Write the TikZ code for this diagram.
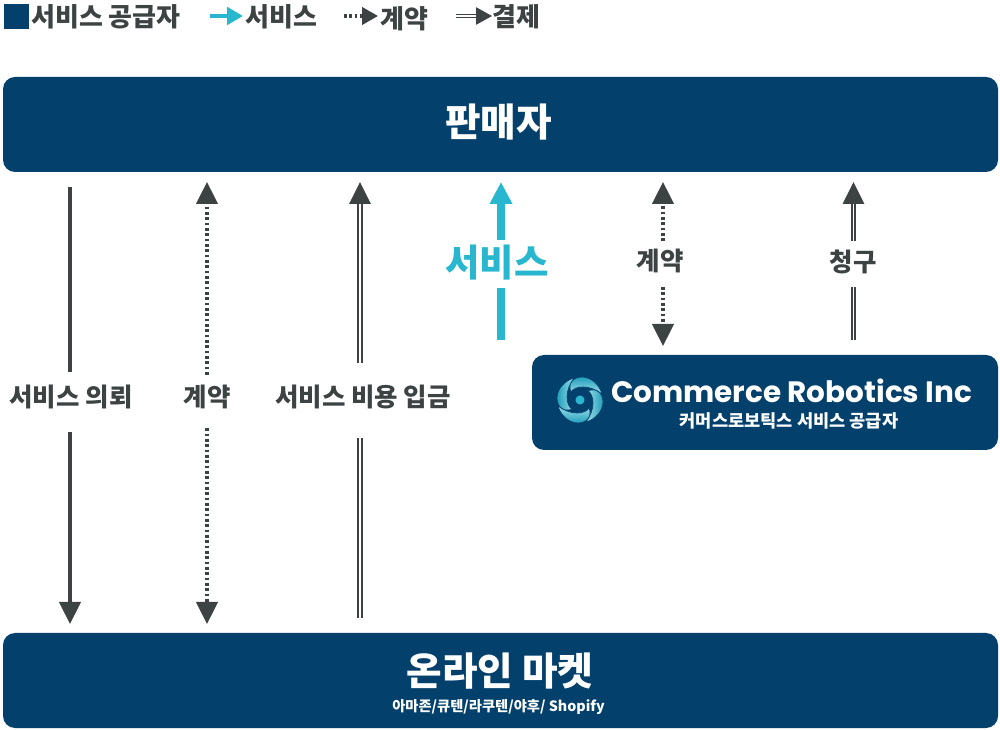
\documentclass[tikz,border=0pt]{standalone}
\usepackage{fontspec}
\setmainfont{Noto Sans CJK KR}
\newfontfamily\logofont{Poppins}
\usetikzlibrary{positioning,calc,arrows.meta}
\definecolor{navy}{HTML}{03406C}
\definecolor{teal}{HTML}{29B6CF}
\definecolor{ink}{HTML}{3D4243}
\tikzset{
  panel/.style={fill=navy,rounded corners=9pt,minimum height=71.25pt,inner sep=0pt},
  head/.style={font=\fontsize{29}{33}\bfseries\selectfont,text=white,inner sep=0pt},
  sub/.style={font=\fontsize{10.7}{13}\bfseries\selectfont,text=white,inner sep=0pt},
  lbl/.style={font=\fontsize{19.1}{23}\bfseries\selectfont,text=ink,inner xsep=0pt,inner ysep=0pt,text height=26.25pt,text depth=18.75pt},
  leg/.style={font=\fontsize{19.5}{23}\bfseries\selectfont,text=ink,inner sep=0pt,anchor=west},
  tipbig/.style={-{Triangle[length=16.5pt,width=16pt]}},
  solidline/.style={ink,line width=2.3pt},
  dotline/.style={ink,line width=2.4pt,dash pattern=on 2.1pt off 1.9pt},
  twoline/.style={ink,double=white,line width=1.4pt,double distance=1.1pt},
  cyanline/.style={teal,line width=6pt}
}
\begin{document}
\begin{tikzpicture}[x=0.75pt,y=-0.75pt]
\useasboundingbox (0,0) rectangle (1000,730);
% legend
\node (key) [fill=navy,minimum size=18.75pt,inner sep=0pt] at (16.5,16.5) {};
\node (t0) [leg] at (31,16.5) {서비스 공급자};
\coordinate (l1a) at (210,16); \coordinate (l1b) at (243,16);
\coordinate (l2a) at (344,16); \coordinate (l2b) at (378,16);
\coordinate (l3a) at (456,16); \coordinate (l3b) at (492,16);
\draw[teal,line width=3pt,-{Triangle[length=12pt,width=13pt]}] (l1a) to (l1b);
\draw[ink,line width=2.4pt,dash pattern=on 2pt off 2pt,-{Triangle[length=12pt,width=13pt]}] (l2a) to (l2b);
\draw[ink,double=white,line width=1.2pt,double distance=1pt,-{Triangle[length=12pt,width=13pt]}] (l3a) to (l3b);
\node (t1) [leg] at (245,16.5) {서비스};
\node (t2) [leg] at (380,18.5) {계약};
\node (t3) [leg] at (492,16.5) {결제};
% boxes
\node (seller) [panel,minimum width=746.25pt] at (500.5,124.5) {};
\node (market) [panel,minimum width=746.25pt] at (500.5,680.5) {};
\node (robot) [panel,minimum width=349.5pt] at (765,402.5) {};
\node (sellertxt) [head] at (498.5,122) {판매자};
\node (markettxt) [head] at (500,671) {온라인 마켓};
\node (marketsub) [sub] at (498.5,707) {아마존/큐텐/라쿠텐/야후/ Shopify};
\node (robotname) [font=\fontsize{22.1}{27}\logofont\bfseries\selectfont,text=white,inner sep=0pt] at (791.5,391) {Commerce Robotics Inc};
\node (robotsub) [font=\fontsize{13.2}{16}\bfseries\selectfont,text=white,inner sep=0pt] at (789,421) {커머스로보틱스 서비스 공급자};
% logo
\foreach \ang in {0,90,180,270}{
  \begin{scope}[shift={(580,400)},rotate=\ang]
    \shade[left color=teal!80!navy,right color=teal!45!white,shading angle=\ang,draw=navy,line width=.5pt]
      (-9,-8) .. controls (-13,-17) and (-6,-23) .. (2,-23)
      .. controls (12,-23) and (20,-14) .. (22,-6)
      .. controls (15,-11) and (9,-13) .. (3,-13)
      .. controls (-3,-13) and (-7,-11) .. (-9,-8) -- cycle;
  \end{scope}
}
\fill[teal] (580,400) circle (3.4pt);
% labels on the arrows
\node (lab1) [lbl] at (71,402) {서비스 의뢰};
\node (lab2) [lbl] at (207,402) {계약};
\node (lab3) [lbl] at (363,402) {서비스 비용 입금};
\node (lab4) [lbl,font=\fontsize{28}{32}\bfseries\selectfont,text=teal,text height=27pt,text depth=8pt] at (497,264) {서비스};
\node (lab5) [lbl,text height=21.75pt,text depth=12.25pt] at (660,264) {계약};
\node (lab6) [lbl,text height=22.5pt,text depth=11.5pt] at (853,264) {청구};
% arrow ends
\coordinate (a1) at (70,187);  \coordinate (b1) at (70,624);
\coordinate (a2) at (207,182); \coordinate (b2) at (207,624);
\coordinate (a3) at (360,182); \coordinate (b3) at (360,618);
\coordinate (a4) at (501,182); \coordinate (b4) at (501,340);
\coordinate (a5) at (663,182); \coordinate (b5) at (663,346);
\coordinate (a6) at (853.5,182); \coordinate (b6) at (853.5,340);
% arrows
\draw[solidline](a1)to (lab1.north -| a1);
\draw[solidline,tipbig](lab1.south -| a1)to (b1);
\draw[dotline,tipbig,shorten <=-2.25pt](lab2.north -| a2)to (a2);
\draw[dotline,tipbig,shorten <=-3pt](lab2.south -| a2)to (b2);
\draw[twoline,tipbig,shorten <=6.75pt](lab3.north -| a3)to (a3);
\draw[twoline,shorten <=4.5pt](lab3.south -| a3)to (b3);
\draw[cyanline,tipbig](lab4.north -| a4)to (a4);
\draw[cyanline](lab4.south -| a4)to (b4);
\draw[dotline,tipbig](lab5.north -| a5)to (a5);
\draw[dotline,tipbig](lab5.south -| a5)to (b5);
\draw[twoline,tipbig](lab6.north -| a6)to (a6);
\draw[twoline](lab6.south -| a6)to (b6);
\end{tikzpicture}
\end{document}
